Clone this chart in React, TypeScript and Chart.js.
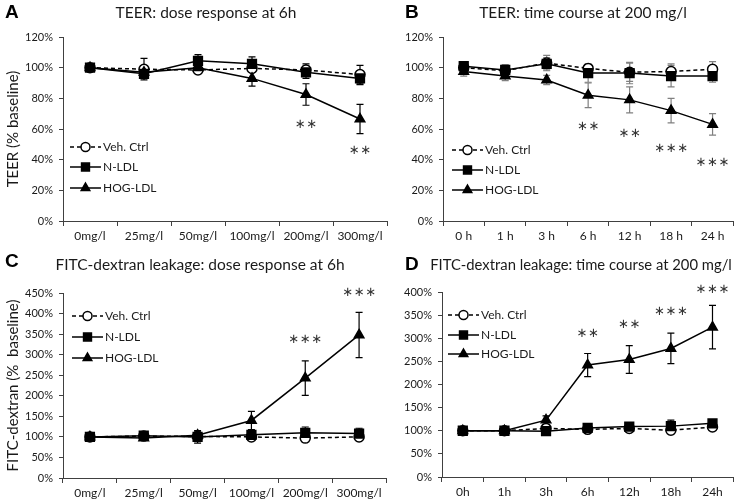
import React, { useEffect, useRef } from 'react';
import { Chart, registerables } from 'chart.js';
Chart.register(...registerables);

const FONT = 'Lato, "Open Sans", sans-serif';
const AXIS = '#404040';
const TXT = '#1a1a1a';

const seriesNames = ['Veh. Ctrl', 'N-LDL', 'HOG-LDL'];
const doseLabels = ['0mg/l', '25mg/l', '50mg/l', '100mg/l', '200mg/l', '300mg/l'];
const timeLabelsB = ['0 h', '1 h', '3 h', '6 h', '12 h', '18 h', '24 h'];
const timeLabelsD = ['0h', '1h', '3h', '6h', '12h', '18h', '24h'];

// Panel A: TEER dose response
const aVeh = [100, 99, 98.5, 99.5, 98.5, 95.5];
const aNLDL = [100, 96, 104.5, 102.5, 97, 93];
const aHOG = [100, 97, 100, 93, 82.5, 66.5];
const aVehErr = [0.5, 7, 1.5, 2, 4, 6];
const aNLDLErr = [0.5, 3, 4, 4.5, 4, 4];
const aHOGErr = [0.5, 2, 2, 5, 7, 9.5];
const aStarText = ['', '', '', '', '**', '**'];
const aStarVal = [0, 0, 0, 0, 62.6, 45.7];

// Panel B: TEER time course
const bVeh = [100, 98, 103, 99.5, 97, 97.5, 99];
const bNLDL = [101, 98.5, 102.5, 96.5, 96.5, 94.5, 94.5];
const bHOG = [97.5, 94.5, 92, 82, 79, 72, 63];
const bVehErr = [2, 4, 5, 2, 6, 5, 5];
const bNLDLErr = [2, 3, 4, 6, 7, 7, 4];
const bHOGErr = [3, 3, 3, 8, 8.5, 8, 7];
const bStarText = ['', '', '', '**', '**', '***', '***'];
const bStarVal = [0, 0, 0, 61.3, 56.7, 47, 37.8];

// Panel C: FITC dose response
const cVeh = [100, 102, 101, 100, 97, 100];
const cNLDL = [100, 103, 100, 105, 110, 108];
const cHOG = [100, 97, 104, 140, 243, 348];
const cVehErr = [3, 3, 3, 3, 3, 3];
const cNLDLErr = [3, 5, 15, 8, 14, 13];
const cHOGErr = [3, 5, 8, 22, 42, 55];
const cStarText = ['', '', '', '', '***', '***'];
const cStarVal = [0, 0, 0, 0, 336, 452];

// Panel D: FITC time course
const dVeh = [100, 100, 105, 103, 105, 101, 108];
const dNLDL = [100, 100, 99, 106, 109, 110, 116];
const dHOG = [100, 100, 123, 242, 254, 278, 324];
const dVehErr = [3, 3, 5, 3, 3, 5, 5];
const dNLDLErr = [3, 3, 3, 5, 5, 13, 5];
const dHOGErr = [3, 3, 9, 25, 30, 33, 47];
const dStarText = ['', '', '', '**', '**', '***', '***'];
const dStarVal = [0, 0, 0, 311, 329, 357, 406];

const panels = [
  {
    key: 'A', left: 0, top: 0, w: 395, h: 250, area: { l: 63, r: 387, t: 37, b: 221 },
    labels: doseLabels, series: [aVeh, aNLDL, aHOG], errs: [aVehErr, aNLDLErr, aHOGErr], errColor: '#000',
    yMax: 120, yStep: 20, yTitle: 'TEER (% baseline)',
    title: 'TEER: dose response at 6h', titleX: 206, titleY: 13, titleSize: 15.5, letterX: 5, letterY: 13,
    legendX: 70, legendY: [147, 167, 188], starText: aStarText, starVal: aStarVal,
  },
  {
    key: 'B', left: 370, top: 0, w: 371, h: 250, area: { l: 73, r: 370, t: 37, b: 221 },
    labels: timeLabelsB, series: [bVeh, bNLDL, bHOG], errs: [bVehErr, bNLDLErr, bHOGErr], errColor: '#808080',
    yMax: 120, yStep: 20, yTitle: '',
    title: 'TEER: time course at 200 mg/l', titleX: 213, titleY: 13, titleSize: 15.5, letterX: 35, letterY: 13,
    legendX: 82, legendY: [150, 170, 190], starText: bStarText, starVal: bStarVal,
  },
  {
    key: 'C', left: 0, top: 250, w: 395, h: 249, area: { l: 63, r: 386, t: 43, b: 228 },
    labels: doseLabels, series: [cVeh, cNLDL, cHOG], errs: [cVehErr, cNLDLErr, cHOGErr], errColor: '#000',
    yMax: 450, yStep: 50, yTitle: 'FITC-dextran (%  baseline)',
    title: 'FITC-dextran leakage: dose response at 6h', titleX: 200, titleY: 15, titleSize: 15.5, letterX: 5, letterY: 12,
    legendX: 72, legendY: [66, 87, 108], starText: cStarText, starVal: cStarVal,
  },
  {
    key: 'D', left: 370, top: 250, w: 371, h: 249, area: { l: 72, r: 365, t: 42, b: 227 },
    labels: timeLabelsD, series: [dVeh, dNLDL, dHOG], errs: [dVehErr, dNLDLErr, dHOGErr], errColor: '#000',
    yMax: 400, yStep: 50, yTitle: '',
    title: 'FITC-dextran leakage: time course at 200 mg/l', titleX: 211, titleY: 15, titleSize: 14.8, letterX: 35, letterY: 15,
    legendX: 78, legendY: [65, 85, 104], starText: dStarText, starVal: dStarVal,
  },
];

const pointStyles = ['circle', 'rect', 'triangle'];
const pointRadii = [5, 6.2, 5.5];

function drawMarker(ctx: CanvasRenderingContext2D, style: string, x: number, y: number, r: number) {
  ctx.save();
  ctx.lineWidth = 1.5;
  ctx.strokeStyle = '#000';
  ctx.beginPath();
  if (style === 'circle') {
    ctx.fillStyle = '#fff';
    ctx.arc(x, y, r, 0, Math.PI * 2);
    ctx.fill();
    ctx.stroke();
  } else if (style === 'rect') {
    const s = r * Math.SQRT1_2;
    ctx.fillStyle = '#000';
    ctx.rect(x - s, y - s, 2 * s, 2 * s);
    ctx.fill();
    ctx.stroke();
  } else {
    ctx.fillStyle = '#000';
    for (let k = 0; k < 3; k++) {
      const a = (k * 2 * Math.PI) / 3;
      const px = x + Math.sin(a) * r;
      const py = y - Math.cos(a) * r;
      if (k === 0) ctx.moveTo(px, py);
      else ctx.lineTo(px, py);
    }
    ctx.closePath();
    ctx.fill();
    ctx.stroke();
  }
  ctx.restore();
}

function makeOverlay(p: any) {
  return {
    id: 'overlay' + p.key,
    beforeDatasetsDraw(chart: any) {
      const ctx = chart.ctx;
      const ys = chart.scales.y;
      ctx.save();
      ctx.strokeStyle = p.errColor;
      ctx.lineWidth = 1.2;
      p.series.forEach((ser: number[], i: number) => {
        const meta = chart.getDatasetMeta(i);
        ser.forEach((v: number, j: number) => {
          const e = p.errs[i][j];
          const x = meta.data[j].x;
          const y1 = ys.getPixelForValue(v + e);
          const y2 = ys.getPixelForValue(v - e);
          ctx.beginPath();
          ctx.moveTo(x, y1); ctx.lineTo(x, y2);
          ctx.moveTo(x - 3.5, y1); ctx.lineTo(x + 3.5, y1);
          ctx.moveTo(x - 3.5, y2); ctx.lineTo(x + 3.5, y2);
          ctx.stroke();
        });
      });
      ctx.restore();
    },
    afterDraw(chart: any) {
      const ctx = chart.ctx;
      const ys = chart.scales.y;
      ctx.save();
      // panel letter
      ctx.fillStyle = '#000';
      ctx.font = 'bold 19px "Liberation Sans", Arial, sans-serif';
      ctx.textBaseline = 'middle';
      ctx.textAlign = 'left';
      ctx.fillText(p.key, p.letterX, p.letterY);
      // title
      ctx.fillStyle = TXT;
      ctx.font = p.titleSize + 'px ' + FONT;
      ctx.textAlign = 'center';
      ctx.fillText(p.title, p.titleX, p.titleY);
      // legend
      ctx.font = '12px ' + FONT;
      ctx.textAlign = 'left';
      seriesNames.forEach((name, i) => {
        const y = p.legendY[i];
        ctx.save();
        ctx.strokeStyle = '#000';
        ctx.lineWidth = 1.5;
        ctx.setLineDash(i === 0 ? [4, 3] : []);
        ctx.beginPath();
        ctx.moveTo(p.legendX, y);
        ctx.lineTo(p.legendX + 31, y);
        ctx.stroke();
        ctx.restore();
        drawMarker(ctx, pointStyles[i], p.legendX + 15.5, y, pointRadii[i] * 0.9);
        ctx.fillStyle = TXT;
        ctx.fillText(name, p.legendX + 33, y);
      });
      // significance stars
      const meta = chart.getDatasetMeta(2);
      ctx.font = '13px "DejaVu Sans", sans-serif';
      ctx.textAlign = 'center';
      ctx.fillStyle = '#333';
      p.starText.forEach((t: string, j: number) => {
        if (!t) return;
        const x = meta.data[j].x;
        const y = ys.getPixelForValue(p.starVal[j]);
        const n = t.length;
        for (let k = 0; k < n; k++) {
          ctx.fillText('\u2217', x + (k - (n - 1) / 2) * 11.5, y);
        }
      });
      ctx.restore();
    },
  };
}

function Panel({ p }: { p: any }) {
  const ref = useRef<HTMLCanvasElement>(null);
  useEffect(() => {
    const canvas = ref.current!;
    const chart = new Chart(canvas, {
      type: 'line',
      data: {
        labels: p.labels,
        datasets: p.series.map((d: number[], i: number) => ({
          label: seriesNames[i],
          data: d,
          borderColor: '#000',
          backgroundColor: i === 0 ? '#fff' : '#000',
          borderWidth: 1.5,
          borderDash: i === 0 ? [4, 3] : [],
          pointStyle: pointStyles[i],
          pointRadius: pointRadii[i],
          pointBorderColor: '#000',
          pointBackgroundColor: i === 0 ? '#fff' : '#000',
          pointBorderWidth: 1.5,
          tension: 0,
          fill: false,
          order: [2, 1, 0][i],
        })),
      },
      options: {
        responsive: false,
        animation: false,
        devicePixelRatio: 1,
        layout: { padding: { left: 0, top: p.area.t, right: p.w - p.area.r, bottom: 0 } },
        plugins: { legend: { display: false }, tooltip: { enabled: false }, title: { display: false } },
        scales: {
          x: {
            type: 'category',
            offset: true,
            grid: { offset: true, drawOnChartArea: false, drawTicks: true, tickLength: 5, color: AXIS },
            border: { display: true, color: AXIS, width: 1 },
            ticks: { font: { family: FONT, size: 12 }, color: TXT, padding: 3, maxRotation: 0, autoSkip: false },
            afterFit: (s: any) => { s.height = p.h - p.area.b; },
          },
          y: {
            min: 0,
            max: p.yMax,
            ticks: { stepSize: p.yStep, callback: (v: any) => v + '%', font: { family: FONT, size: 11 }, color: TXT, padding: 6 },
            grid: { drawOnChartArea: false, tickLength: 4, color: AXIS },
            border: { display: true, color: AXIS, width: 1 },
            title: { display: !!p.yTitle, text: p.yTitle, font: { family: FONT, size: 15 }, color: TXT, padding: { top: 4, bottom: 0 } },
            afterFit: (s: any) => { s.width = p.area.l; },
          },
        },
      } as any,
      plugins: [makeOverlay(p)],
    });
    return () => chart.destroy();
  }, []);
  return (
    <canvas
      ref={ref}
      width={p.w}
      height={p.h}
      style={{ position: 'absolute', left: p.left, top: p.top, width: p.w, height: p.h }}
    />
  );
}

export default function App() {
  return (
    <div style={{ position: 'absolute', left: 0, top: 0, width: 741, height: 499, background: '#fff', overflow: 'hidden' }}>
      {panels.map((p) => (
        <Panel key={p.key} p={p} />
      ))}
    </div>
  );
}
